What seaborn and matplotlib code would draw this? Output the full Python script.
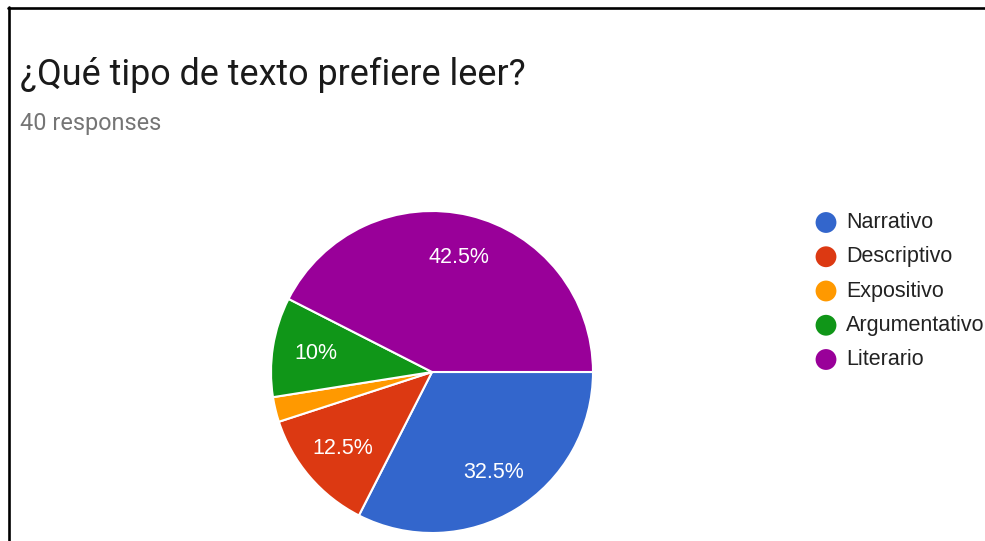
import matplotlib
matplotlib.use("Agg")
import matplotlib.pyplot as plt
from matplotlib.lines import Line2D
import numpy as np
import seaborn as sns

# Survey answers (40 responses)
categories = ["Narrativo", "Descriptivo", "Expositivo", "Argumentativo", "Literario"]
counts = [13, 5, 1, 4, 17]
pct_labels = ["32.5%", "12.5%", "", "10%", "42.5%"]
colors = ["#3366cc", "#dc3912", "#ff9900", "#109618", "#990099"]

sns.set_theme(style="white")
plt.rcParams["font.family"] = ["Liberation Sans", "DejaVu Sans"]

W, H = 985, 541
fig = plt.figure(figsize=(W / 100, H / 100), dpi=100)
fig.patch.set_facecolor("white")

def fx(px):
    return px / W

def fy(py):
    return 1 - py / H

# Pie: center (432, 372), radius 161 px
cx, cy, r = 432, 372, 161
ax = fig.add_axes([fx(cx - r), fy(cy + r), 2 * r / W, 2 * r / H])
wedges, _ = ax.pie(
    counts,
    colors=sns.color_palette(colors),
    startangle=0,
    counterclock=False,
    radius=1,
    wedgeprops=dict(edgecolor="white", linewidth=1.5),
)
total = sum(counts)
angle = 0.0
for c, lab in zip(counts, pct_labels):
    span = 360.0 * c / total
    mid = np.deg2rad(-(angle + span / 2))
    if lab:
        ax.text(0.73 * np.cos(mid), 0.73 * np.sin(mid), lab, color="white",
                fontsize=15.5, ha="center", va="center")
    angle += span
ax.set_xlim(-1, 1)
ax.set_ylim(-1, 1)
ax.set_aspect("auto")
ax.axis("off")

# Legend drawn as circles and labels, one row per category
row0, step = 222.5, 34.25
lax = fig.add_axes([fx(810), fy(row0 - step / 2 + step * 5), fx(175), step * 5 / H])
lax.set_xlim(0, 175)
lax.set_ylim(4.5, -0.5)
lax.axis("off")
for i, (name, col) in enumerate(zip(categories, colors)):
    lax.scatter(16, i, s=225, color=col, edgecolors="none")
    lax.text(36, i, name, fontsize=15.5, color="#222222", ha="left", va="center")

# Header texts
fig.text(fx(20), fy(85), "¿Qué tipo de texto prefiere leer?", fontsize=25.8,
         family=["Roboto", "DejaVu Sans"], color="#1a1a1a", ha="left", va="baseline")
fig.text(fx(20), fy(130), "40 responses", fontsize=16.9,
         family=["Roboto", "DejaVu Sans"], color="#757575", ha="left", va="baseline")

# Card border (top and left edges)
fig.add_artist(Line2D([fx(8), 1], [fy(7.5), fy(7.5)], color="black", linewidth=1.9))
fig.add_artist(Line2D([fx(8.5), fx(8.5)], [fy(7), 0], color="black", linewidth=1.9))

fig.savefig("out.png", dpi=100, facecolor="white")
